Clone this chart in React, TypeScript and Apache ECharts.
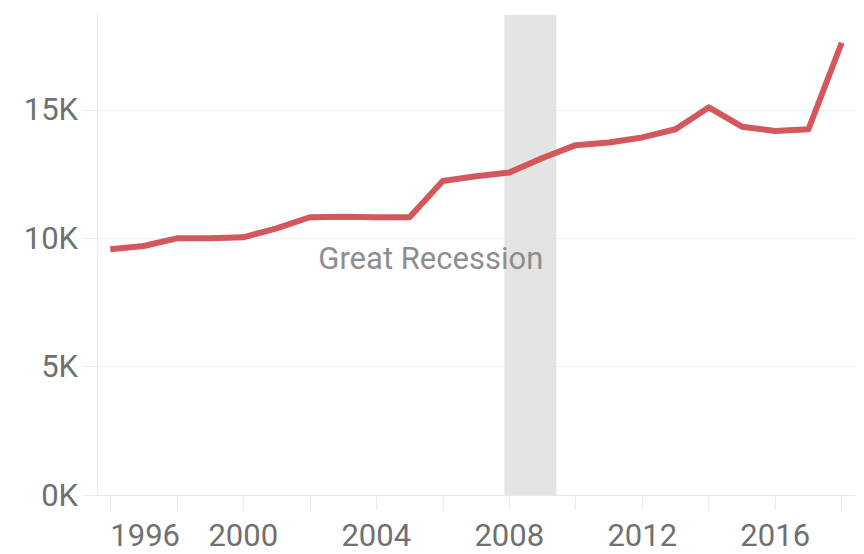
import React, { useEffect, useRef } from "react";
import * as echarts from "echarts";

const years = [1996, 1997, 1998, 1999, 2000, 2001, 2002, 2003, 2004, 2005, 2006, 2007, 2008, 2009, 2010, 2011, 2012, 2013, 2014, 2015, 2016, 2017, 2018];
const values = [9570, 9700, 10000, 10000, 10040, 10390, 10820, 10840, 10820, 10820, 12230, 12420, 12560, 13130, 13630, 13730, 13930, 14250, 15100, 14350, 14180, 14250, 17620];
const xLabelYears = [1996, 2000, 2004, 2008, 2012, 2016];
const xTickYears = [1996, 1998, 2000, 2002, 2004, 2006, 2008, 2010, 2012, 2014, 2016, 2018];
const recession = { start: 2007.855, end: 2009.415, label: "Great Recession" };

export default function App() {
  const ref = useRef<HTMLDivElement>(null);
  useEffect(() => {
    if (!ref.current) return;
    const chart = echarts.init(ref.current, null, { renderer: "svg" });
    const font = "Roboto";
    chart.setOption({
      animation: false,
      backgroundColor: "#ffffff",
      grid: { left: 97, right: 9, top: 15, bottom: 59 },
      xAxis: {
        type: "value",
        min: 1995.6,
        max: 2018.4,
        axisLine: { show: true, lineStyle: { color: "#e8e8e8", width: 1 } },
        axisTick: { show: true, customValues: xTickYears, length: 15, lineStyle: { color: "#ececec" } },
        axisLabel: {
          customValues: xLabelYears,
          formatter: (v: number) => String(Math.round(v)),
          color: "#707070",
          fontFamily: font,
          fontSize: 31,
          lineHeight: 31,
          margin: 25,
          alignMinLabel: "left",
        },
        splitLine: { show: false },
      },
      yAxis: {
        type: "value",
        min: 0,
        max: 18700,
        interval: 5000,
        axisLine: { show: true, lineStyle: { color: "#ececec" } },
        axisTick: { show: true, length: 14, lineStyle: { color: "#ececec" } },
        axisLabel: {
          showMaxLabel: false,
          formatter: (v: number) => v / 1000 + "K",
          color: "#707070",
          fontFamily: font,
          fontSize: 31,
          margin: 19,
        },
        splitLine: { show: true, lineStyle: { color: ["#efefef", "#efefef", "#efefef", "#efefef", "rgba(0,0,0,0)"] } },
      },
      series: [
        {
          type: "line",
          data: years.map((y, i) => [y, values[i]]),
          symbol: "none",
          lineStyle: { color: "#d4575b", width: 6, join: "round" },
          markArea: {
            silent: true,
            itemStyle: { color: "#e4e4e4" },
            label: {
              show: true,
              position: "insideRight",
              distance: 13,
              offset: [0, 3],
              color: "#8e8e8e",
              fontFamily: font,
              fontSize: 31,
            },
            data: [[{ xAxis: recession.start, name: recession.label }, { xAxis: recession.end }]],
          },
        },
      ],
    });
    return () => chart.dispose();
  }, []);
  return <div ref={ref} style={{ position: "fixed", left: 0, top: 0, width: 864, height: 554 }} />;
}
